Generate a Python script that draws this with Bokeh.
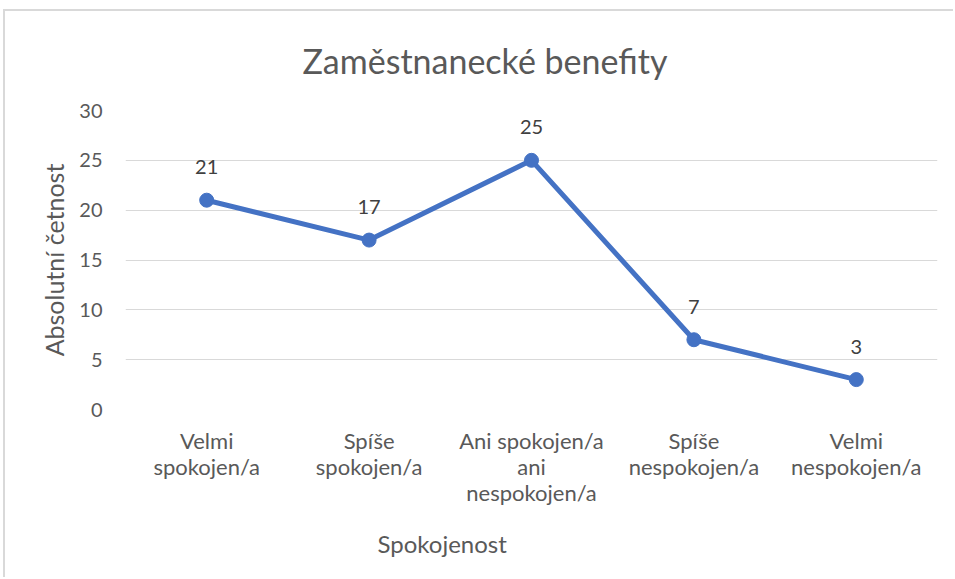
from bokeh.plotting import figure
from bokeh.models import (ColumnDataSource, LabelSet, FixedTicker, CategoricalAxis, Title,
                          CustomJSTickFormatter)
from bokeh.core.properties import value
from bokeh.embed import file_html
from bokeh.resources import INLINE

categories = ["Velmi spokojen/a", "Spíše spokojen/a", "Ani spokojen/a ani nespokojen/a",
              "Spíše nespokojen/a", "Velmi nespokojen/a"]
tick_labels = ["Velmi\nspokojen/a", "Spíše\nspokojen/a", "Ani spokojen/a\nani\nnespokojen/a",
               "Spíše\nnespokojen/a", "Velmi\nnespokojen/a"]
values = [21, 17, 25, 7, 3]
y_ticks = [0, 5, 10, 15, 20, 25, 30]
value_labels = [str(v) for v in values]

FONT = "Lato"
GREY = "#595959"
BLUE = "#4472C4"

src = ColumnDataSource(dict(cat=categories, val=values, lab=value_labels))

p = figure(x_range=categories, y_range=(0, 30), width=950, height=568,
           output_backend="svg", toolbar_location=None,
           min_border_left=120, min_border_right=18, min_border_top=99, min_border_bottom=170)
p.styles = {"margin-left": "3px", "margin-top": "9px",
            "border-top": "2px solid #d9d9d9", "border-left": "2px solid #d9d9d9"}

p.title.text = "Zaměstnanecké benefity"
p.title.align = "left"
p.title.offset = 177
p.title.vertical_align = "top"
p.title.standoff = 56
p.title.text_font = FONT
p.title.text_font_size = "34px"
p.title.text_font_style = "normal"
p.title.text_color = GREY

p.outline_line_color = None
p.background_fill_color = "white"
p.border_fill_color = "white"

p.line("cat", "val", source=src, line_color=BLUE, line_width=5)
p.scatter("cat", "val", source=src, size=14, fill_color=BLUE, line_color=BLUE)

labels = LabelSet(x="cat", y="val", text="lab", source=src, y_offset=26,
                  text_align="center", text_baseline="alphabetic", text_font=value(FONT),
                  text_font_size="20px", text_color="#404040")
p.add_layout(labels)

# y axis
p.yaxis.ticker = FixedTicker(ticks=y_ticks)
p.yaxis.axis_line_color = None
p.yaxis.major_tick_line_color = None
p.yaxis.minor_tick_line_color = None
p.yaxis.major_tick_out = 0
p.yaxis.major_label_standoff = 23
p.yaxis.major_label_text_font = FONT
p.yaxis.major_label_text_font_size = "20px"
p.yaxis.major_label_text_color = GREY
p.yaxis.axis_label = "Absolutní četnost"
p.yaxis.axis_label_text_font = FONT
p.yaxis.axis_label_text_font_size = "25px"
p.yaxis.axis_label_text_font_style = "normal"
p.yaxis.axis_label_text_color = GREY
p.yaxis.axis_label_standoff = 7

# x axis: one axis per line of the wrapped category labels
lines = [t.split("\n") for t in tick_labels]
n_lines = max(len(l) for l in lines)
standoffs = [17, -4, -4]
p.xaxis.visible = False
for i in range(n_lines):
    line_i = [(l[i] if i < len(l) else "") for l in lines]
    ax = CategoricalAxis()
    ax.formatter = CustomJSTickFormatter(
        args=dict(cats=categories, labs=line_i),
        code="const k = cats.indexOf(tick); return k >= 0 ? labs[k] : '';")
    ax.axis_line_color = None
    ax.major_tick_line_color = None
    ax.minor_tick_line_color = None
    ax.major_tick_out = 0
    ax.major_tick_in = 0
    ax.major_label_standoff = standoffs[i]
    ax.major_label_text_font = FONT
    ax.major_label_text_font_size = "22px"
    ax.major_label_text_color = GREY
    p.add_layout(ax, "below")

xt = Title(text="Spokojenost", align="left", offset=252, standoff=36,
           text_font=FONT, text_font_size="24px", text_font_style="normal", text_color=GREY)
p.add_layout(xt, "below")

p.xgrid.grid_line_color = None
p.ygrid.grid_line_color = "#d9d9d9"
p.ygrid.grid_line_width = 1

open("out.html", "w").write(file_html(p, INLINE))
